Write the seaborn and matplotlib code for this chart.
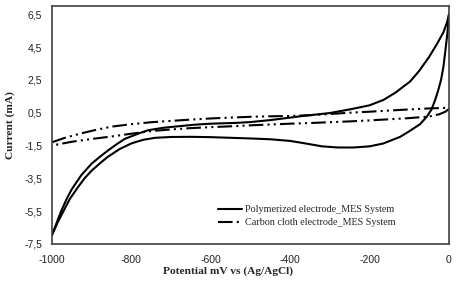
import numpy as np
import pandas as pd
import matplotlib
matplotlib.use("Agg")
import matplotlib.pyplot as plt
from matplotlib.lines import Line2D
from matplotlib.ticker import FuncFormatter, FixedLocator
import seaborn as sns

# ---- data ----
poly_fwd_x = [-1000, -985, -977, -963, -951, -940, -926, -900, -880, -860, -837, -817, -796, -780,
              -758, -720, -683, -640, -600, -535, -500, -450, -400, -375, -300, -250, -200, -165,
              -135, -98, -75, -50, -30, -14, -5, 0]
poly_fwd_i = [-6.95, -6.0, -5.5, -4.75, -4.2, -3.8, -3.3, -2.6, -2.2, -1.82, -1.42, -1.1, -0.9, -0.75,
              -0.57, -0.42, -0.33, -0.23, -0.17, -0.12, -0.07, 0.05, 0.2, 0.28, 0.48, 0.7, 0.95, 1.28,
              1.72, 2.4, 3.05, 3.9, 4.7, 5.4, 6.0, 6.5]

poly_rev_x = [0, -4, -9, -14, -20, -27, -35, -44, -56, -73, -98, -123, -166, -200, -240, -280, -320,
              -360, -400, -450, -500, -550, -600, -650, -700, -740, -770, -800, -830, -860, -880,
              -901, -918, -935, -955, -968, -985, -1000]
poly_rev_i = [6.5, 5.35, 4.3, 3.3, 2.5, 1.88, 1.27, 0.7, 0.25, -0.2, -0.6, -0.97, -1.38, -1.55, -1.62,
              -1.62, -1.55, -1.38, -1.22, -1.12, -1.07, -1.03, -0.99, -0.97, -0.98, -1.03, -1.15, -1.37,
              -1.72, -2.2, -2.6, -3.05, -3.5, -4.05, -4.75, -5.35, -6.15, -6.95]

cloth_up_x = [-1000, -970, -930, -890, -850, -800, -750, -700, -650, -600, -550, -500, -450, -400,
              -350, -300, -250, -200, -150, -100, -50, 0]
cloth_up_i = [-1.3, -1.05, -0.78, -0.55, -0.35, -0.2, -0.08, 0.0, 0.08, 0.15, 0.2, 0.25, 0.28, 0.3,
              0.35, 0.42, 0.5, 0.56, 0.63, 0.7, 0.76, 0.8]

cloth_lo_x = [0, -10, -25, -50, -100, -150, -200, -250, -300, -350, -400, -450, -500, -550, -600,
              -650, -700, -750, -800, -850, -900, -950, -1000]
cloth_lo_i = [0.72, 0.55, 0.4, 0.27, 0.17, 0.1, 0.03, -0.03, -0.08, -0.13, -0.17, -0.22, -0.27, -0.33,
              -0.38, -0.44, -0.52, -0.62, -0.78, -0.95, -1.1, -1.27, -1.5]

series_names = ["Polymerized electrode_MES System", "Carbon cloth electrode_MES System"]
x_ticks = [-1000, -800, -600, -400, -200, 0]
y_ticks = [-7.5, -5.5, -3.5, -1.5, 0.5, 2.5, 4.5, 6.5]

# ---- style ----
sns.set_style("white")
plt.rcParams["font.family"] = ["Liberation Serif", "DejaVu Serif"]

fig = plt.figure(figsize=(4.59, 2.81), dpi=100)
ax = fig.add_axes([52 / 459, 1 - 244 / 281, 397 / 459, 238 / 281])

LW = 1.5
dash_style = (7, 2, 1, 2, 1, 2)

branches = [
    (poly_fwd_x, poly_fwd_i, None),
    (poly_rev_x, poly_rev_i, None),
    (cloth_up_x, cloth_up_i, dash_style),
    (cloth_lo_x, cloth_lo_i, dash_style),
]
for bx, bi, ds in branches:
    df = pd.DataFrame({"x": bx, "i": bi})
    sns.lineplot(data=df, x="x", y="i", sort=False, estimator=None, color="black",
                 linewidth=LW, ax=ax)
    line = ax.lines[-1]
    if ds is not None:
        line.set_dashes(ds)
    line.set_solid_joinstyle("round")

ax.set_xlim(-1000, 0)
ax.set_ylim(-7.5, 7.0)
ax.xaxis.set_major_locator(FixedLocator(x_ticks))
ax.yaxis.set_major_locator(FixedLocator(y_ticks))
ax.yaxis.set_major_formatter(FuncFormatter(lambda v, p: f"{v:.1f}".replace(".", ",")))
ax.xaxis.set_major_formatter(FuncFormatter(lambda v, p: f"{int(round(v))}"))
ax.tick_params(axis="both", length=0, labelsize=7.5, colors="#222222")
ax.tick_params(axis="y", pad=7)
ax.tick_params(axis="x", pad=8)
for lab in ax.get_xticklabels() + ax.get_yticklabels():
    lab.set_family(["Liberation Sans", "DejaVu Sans"])

for sp in ax.spines.values():
    sp.set_visible(True)
    sp.set_color("#404040")
    sp.set_linewidth(1.2)

ax.set_xlabel("Potential mV vs (Ag/AgCl)", fontsize=8.2, fontweight="bold")
ax.set_ylabel("Current (mA)", fontsize=8.2, fontweight="bold")
ax.xaxis.set_label_coords((228 - 52) / 397, -(266 - 244) / 238)
ax.yaxis.set_label_coords(-(52 - 15) / 397, 0.5)

handles = [Line2D([0], [0], color="black", lw=LW),
           Line2D([0], [0], color="black", lw=LW, dashes=dash_style)]
ax.legend(handles, series_names, loc="upper left", bbox_to_anchor=((218 - 52) / 397, 1 - (205 - 6) / 238),
          frameon=False, fontsize=7.3, borderpad=0, borderaxespad=0, handlelength=2.4,
          handletextpad=0.3, labelspacing=0.4)

fig.savefig("out.png", dpi=100, facecolor="white")
